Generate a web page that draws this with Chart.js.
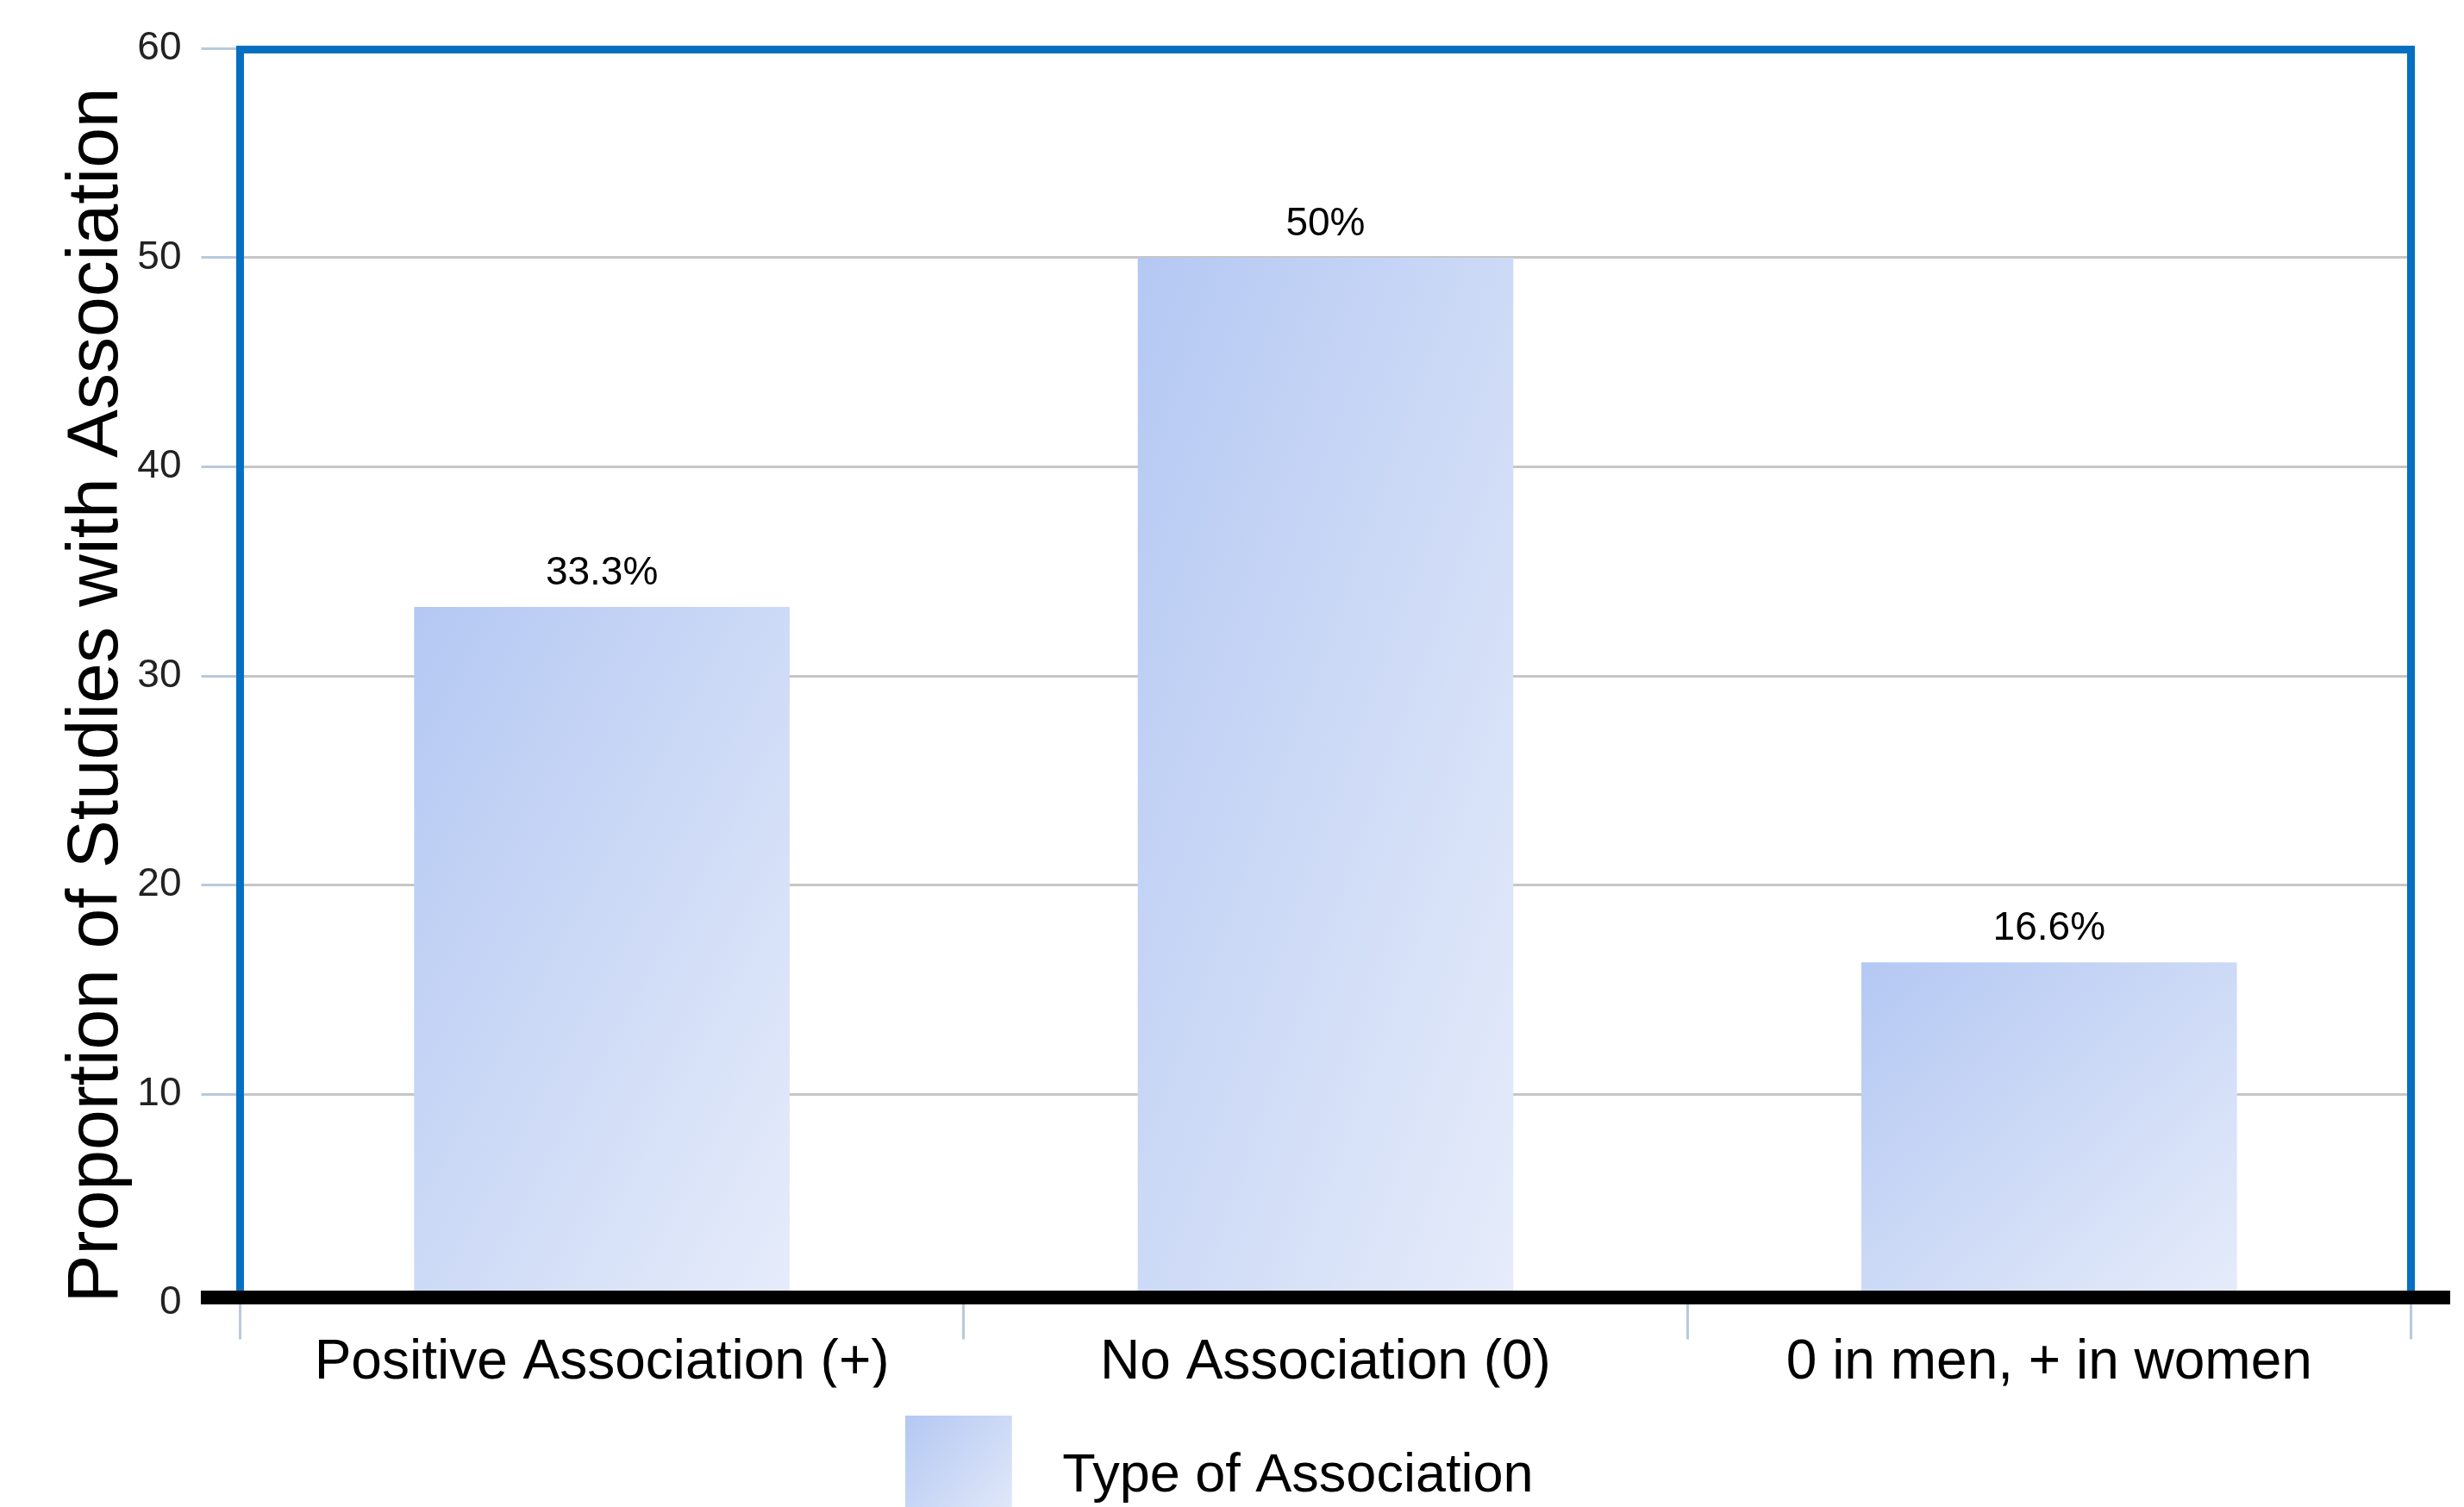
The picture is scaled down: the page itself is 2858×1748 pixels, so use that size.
<!DOCTYPE html>
<html>
<head>
<meta charset="utf-8">
<script src="https://cdn.jsdelivr.net/npm/chart.js@4.4.1/dist/chart.umd.min.js"></script>
<style>
html,body{margin:0;padding:0;background:#fff;overflow:hidden;}
#wrap{position:relative;width:2858px;height:1755px;}
</style>
</head>
<body>
<div id="wrap"><canvas id="c"></canvas></div>
<script>
// ---- data ----
const categories = ['Positive Association (+)', 'No Association (0)', '0 in men, + in women'];
const proportions = [33.3, 50, 16.3];
const valueLabels = ['33.3%', '50%', '16.6%'];
const yTickValues = [0, 10, 20, 30, 40, 50, 60];
const seriesName = 'Type of Association';
const yAxisTitle = 'Proportion of Studies with Association';

// ---- style ----
const FONT = "'Liberation Sans', Arial, Helvetica, sans-serif";
const GRAD_START = '#b4c8f3';
const GRAD_END = '#e6ecfa';
const BAR_FRACTION = 0.519;

function diagGradient(ctx, x, y, w, h) {
  const k = 2 * w * h / (w * w + h * h);
  const g = ctx.createLinearGradient(x, y, x + h * k, y + w * k);
  g.addColorStop(0, GRAD_START);
  g.addColorStop(1, GRAD_END);
  return g;
}

// legend swatch image
const legendImg = document.createElement('canvas');
legendImg.width = 151; legendImg.height = 142;
const lctx = legendImg.getContext('2d');
lctx.fillStyle = diagGradient(lctx, 0, 0, 124, 142);
lctx.fillRect(0, 0, 124, 142);

const framePlugin = {
  id: 'frame',
  afterDatasetsDraw(chart) {
    const {ctx} = chart;
    const meta = chart.getDatasetMeta(0);
    ctx.save();
    ctx.font = '46px ' + FONT;
    ctx.fillStyle = '#000';
    ctx.textAlign = 'center';
    ctx.textBaseline = 'middle';
    meta.data.forEach((bar, i) => ctx.fillText(valueLabels[i], bar.x, bar.y - 39));
    ctx.restore();
  },
  afterDraw(chart) {
    const {ctx, chartArea: a} = chart;
    const y0 = chart.scales.y.getPixelForValue(0);
    ctx.save();
    ctx.strokeStyle = '#0570c1';
    ctx.lineWidth = 9;
    ctx.beginPath();
    ctx.moveTo(a.left, y0);
    ctx.lineTo(a.left, a.top + 1);
    ctx.lineTo(a.right, a.top + 1);
    ctx.lineTo(a.right, y0);
    ctx.stroke();
    ctx.fillStyle = '#000';
    ctx.fillRect(a.left - 45.5, y0 - 14.5, a.right - a.left + 91, 16);
    ctx.restore();
  }
};

new Chart(document.getElementById('c'), {
  type: 'bar',
  data: {
    labels: categories,
    datasets: [{
      label: seriesName,
      data: proportions,
      borderWidth: 0,
      categoryPercentage: 1,
      barPercentage: BAR_FRACTION,
      backgroundColor: (c) => {
        const chart = c.chart;
        const xs = chart.scales.x, ys = chart.scales.y;
        if (!chart.chartArea || !xs || !ys || c.type !== 'data') return GRAD_START;
        const i = c.dataIndex;
        const cx = xs.getPixelForValue(i);
        const w = xs.width / categories.length * BAR_FRACTION;
        const top = ys.getPixelForValue(proportions[i]);
        const bot = ys.getPixelForValue(0);
        return diagGradient(chart.ctx, cx - w / 2, top, w, bot - top);
      }
    }]
  },
  options: {
    responsive: true,
    maintainAspectRatio: false,
    animation: false,
    devicePixelRatio: 1,
    layout: {padding: {left: 31.7, right: 61.5, top: 56.5, bottom: 0.5}},
    plugins: {
      legend: {
        display: true,
        position: 'bottom',
        align: 'center',
        labels: {
          usePointStyle: true,
          pointStyle: legendImg,
          pointStyleWidth: 151,
          padding: 72,
          color: '#000',
          font: {family: FONT, size: 63, lineHeight: 1.2}
        }
      },
      tooltip: {enabled: false},
      title: {display: false}
    },
    scales: {
      x: {
        grid: {display: true, drawOnChartArea: false, drawTicks: true, tickLength: 42, tickColor: '#b9c9dc', tickWidth: 3, offset: true},
        border: {display: false},
        ticks: {color: '#000', font: {family: FONT, size: 64, lineHeight: 1.0}, padding: -4, maxRotation: 0, autoSkip: false}
      },
      y: {
        min: 0,
        max: 60,
        afterBuildTicks: (s) => { s.ticks = yTickValues.map(v => ({value: v})); },
        grid: {color: '#c6c6c6', lineWidth: 3, tickColor: '#b9c9dc', tickWidth: 3, tickLength: 45, drawTicks: true},
        border: {display: false},
        ticks: {color: '#222', font: {family: FONT, size: 46}, padding: 23},
        title: {
          display: true,
          text: yAxisTitle,
          align: 'start',
          color: '#000',
          font: {family: FONT, size: 84, lineHeight: 0.569},
          padding: {top: 56.8, bottom: 0}
        }
      }
    }
  },
  plugins: [framePlugin]
});
</script>
</body>
</html>
